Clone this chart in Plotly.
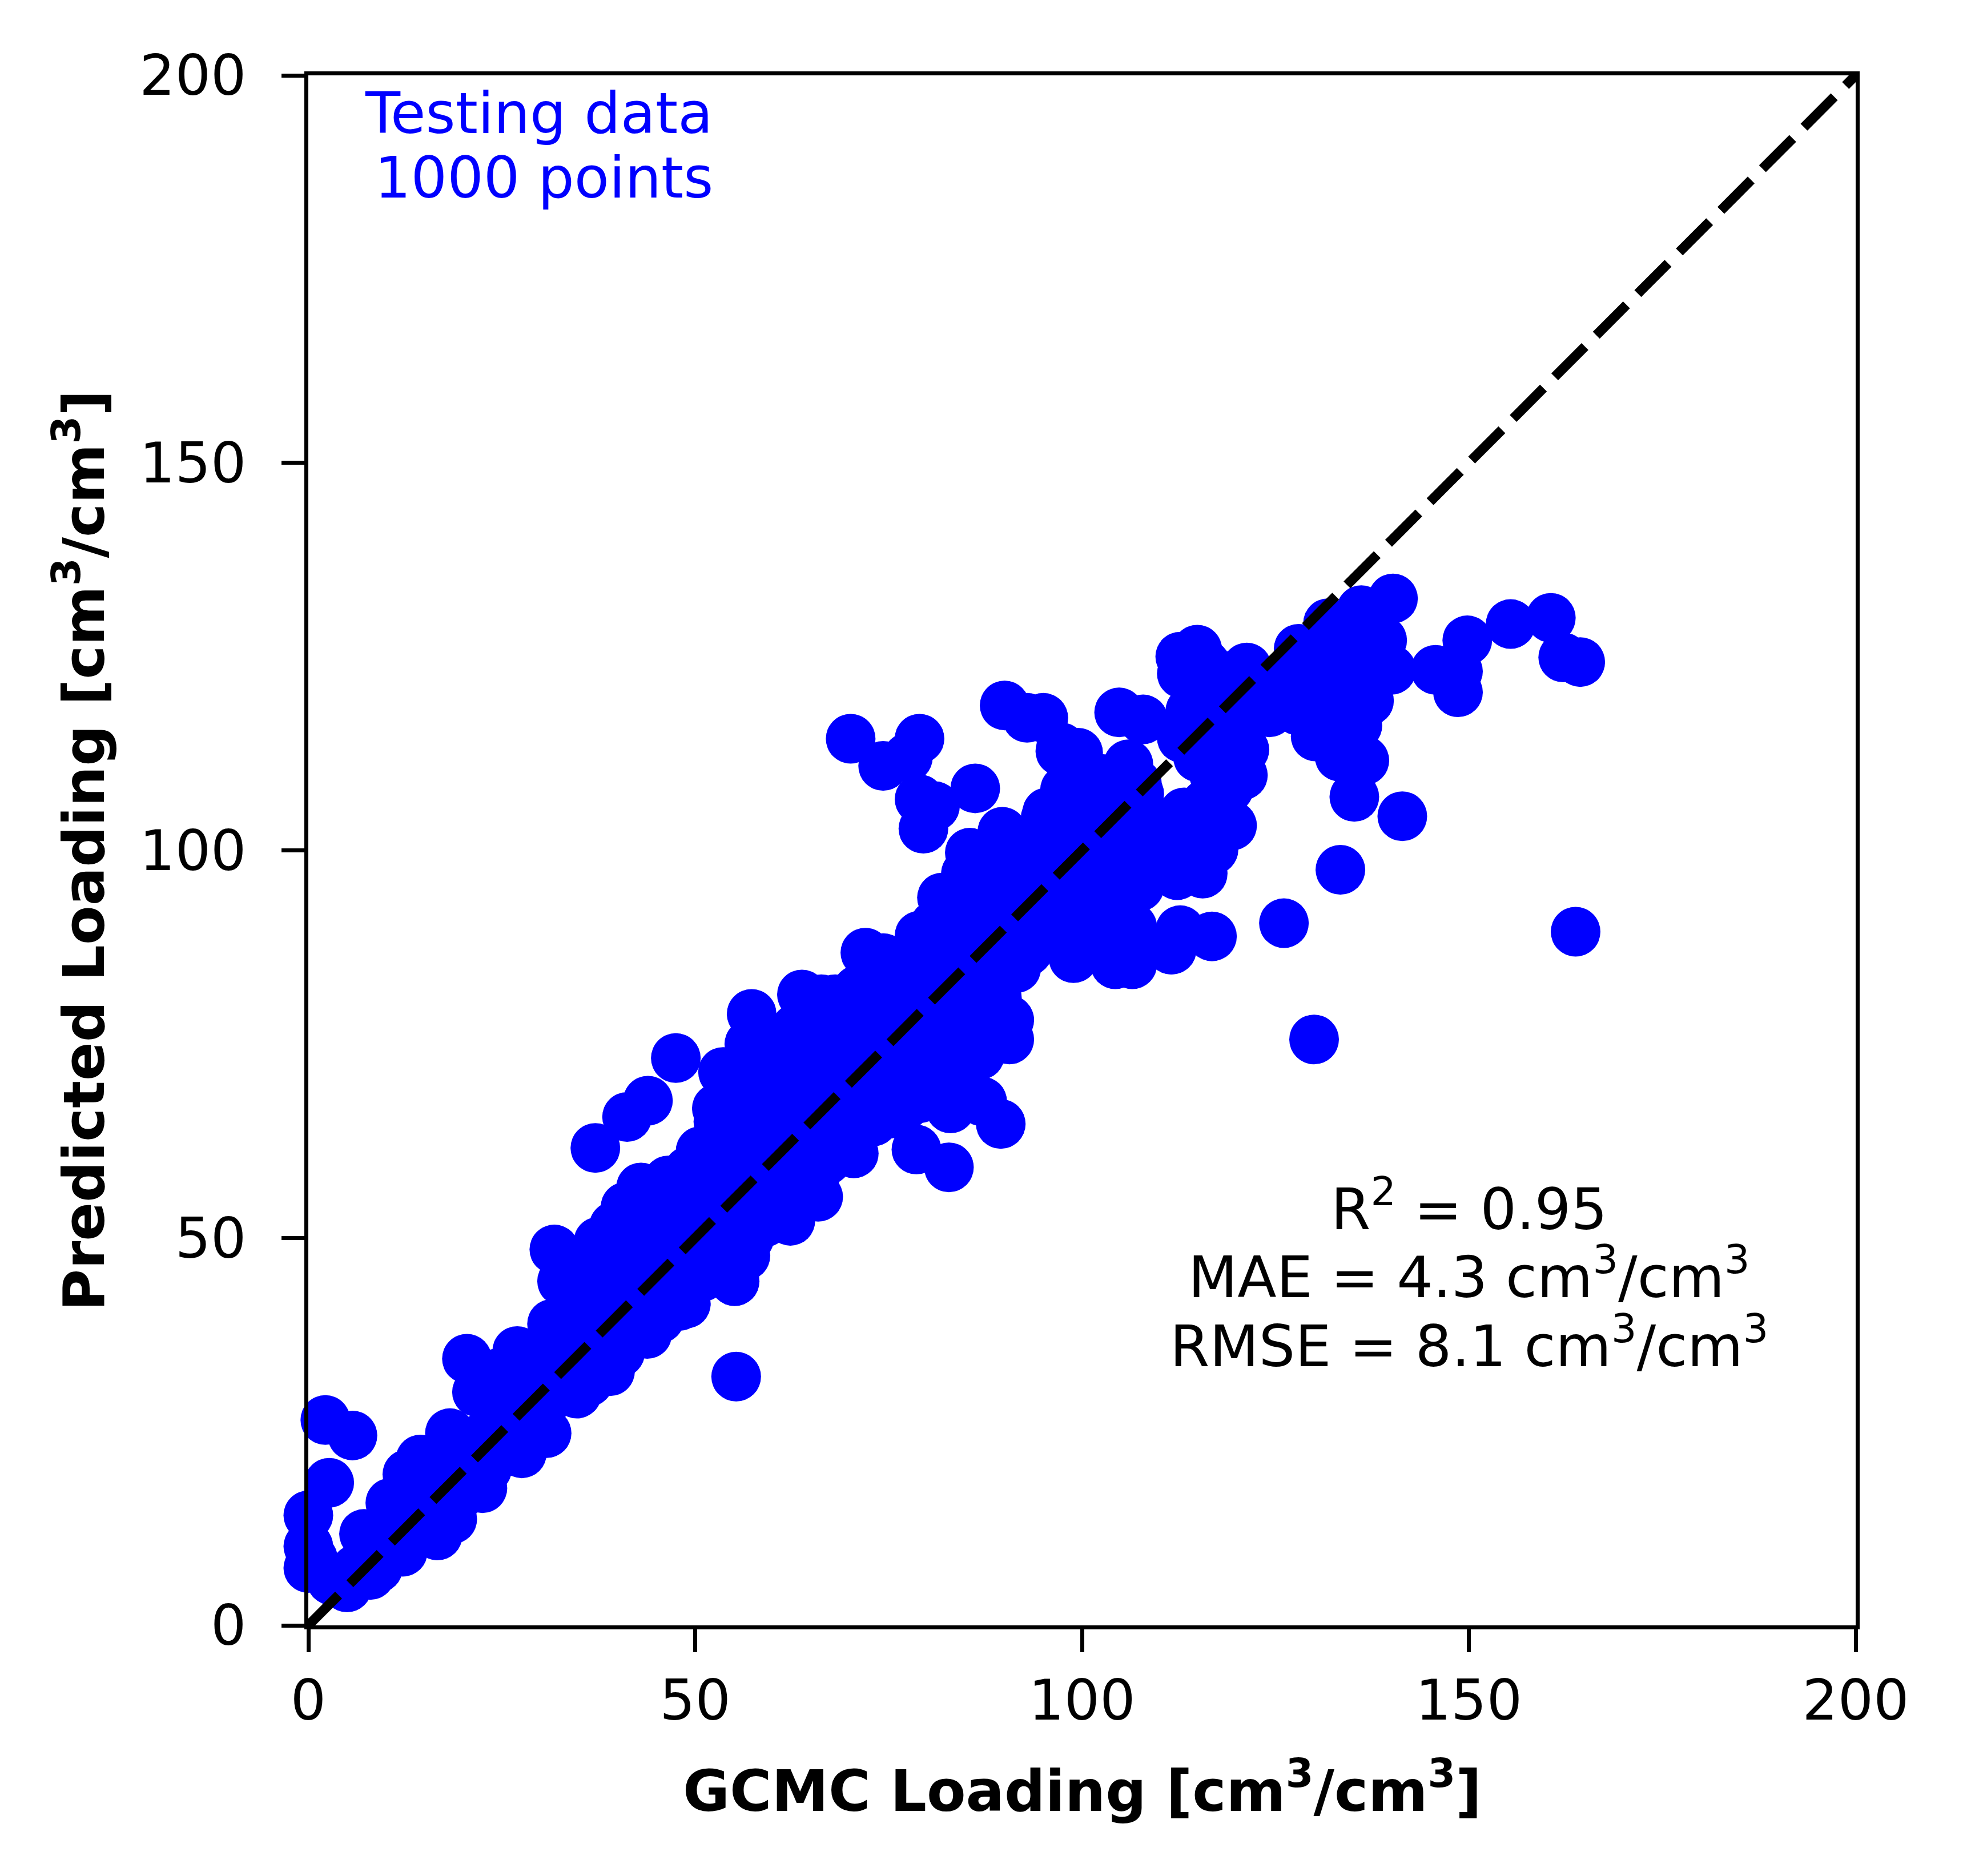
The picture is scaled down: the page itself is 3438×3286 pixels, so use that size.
import plotly.graph_objects as go

# (GCMC loading, predicted loading) pairs, in cm3/cm3
low_band = [
    (0.0, 7.4), (0.0, 10.2), (0.0, 14.2), (0.6, 8.6), (2.2, 26.5), (5.7, 24.5), (2.7, 18.4),
    (3.0, 5.8), (4.7, 5.6), (5.0, 4.9), (6.1, 7.2), (7.2, 11.8), (8.0, 6.5), (9.0, 7.4),
    (9.5, 10.1), (10.2, 12.6), (10.6, 15.8), (12.2, 9.5), (12.5, 12.3), (12.8, 19.5),
    (13.2, 15.2), (14.5, 21.4), (15.0, 12.0), (15.6, 15.1), (16.7, 11.6), (17.0, 18.2),
    (18.3, 24.8), (18.6, 13.7), (18.2, 16.3), (19.9, 17.1), (20.1, 21.0), (20.5, 34.4),
    (21.8, 30.1), (22.5, 17.7), (22.2, 24.1), (23.1, 20.2), (24.4, 32.5), (24.3, 27.0),
    (25.2, 22.3), (26.0, 25.4), (27.0, 35.4), (27.6, 22.2), (27.2, 29.1), (28.3, 26.1),
    (29.1, 31.2), (30.8, 24.8), (30.3, 28.2), (30.1, 34.3), (31.5, 38.9), (31.8, 48.5),
    (32.8, 44.4), (32.2, 31.0), (33.0, 36.2), (34.7, 29.9), (34.1, 33.1), (35.0, 39.2),
    (35.5, 46.5), (36.0, 42.0), (36.2, 31.4), (37.1, 61.6), (37.0, 36.4), (37.5, 49.5),
    (38.1, 45.3), (38.2, 40.1), (39.0, 32.8), (39.2, 48.1), (39.5, 51.5), (40.3, 35.2),
    (40.3, 43.0), (41.1, 38.4), (41.2, 65.6), (41.0, 54.0), (42.0, 46.3), (42.2, 52.1),
    (43.0, 56.5), (43.9, 67.7), (43.8, 37.6), (43.1, 41.2), (44.2, 55.0), (44.1, 49.3),
    (45.0, 44.1), (45.4, 39.6), (46.1, 52.2), (46.5, 57.4), (47.0, 47.1), (47.5, 73.2),
    (47.9, 41.2), (48.1, 55.3), (48.3, 44.3), (49.2, 50.4), (49.1, 58.6), (48.8, 41.5),
]

mid_band = [
    (51, 45), (51, 48), (51, 51), (51, 54), (51, 57), (50.7, 61.2), (52.8, 66.7), (53.6, 71.4),
    (53, 47), (53, 50), (53, 53), (53, 56), (53, 59), (53, 62), (53, 65),
    (55.1, 44.4), (55, 49), (55, 52), (55, 55), (55, 58), (55, 61), (55, 64), (55, 67),
    (56.5, 47.7), (57, 50), (57, 53), (57, 56), (57, 59), (57, 62), (57, 65), (57, 68),
    (56.5, 71.4), (57, 75), (57.3, 78.9),
    (59, 52), (59, 55), (59, 58), (59, 61), (59, 64), (59, 67), (59, 70), (59, 73), (59, 76),
    (61.5, 52.5), (61, 54), (61, 57), (61, 60), (61, 63), (61, 66), (61, 69), (61, 72), (61, 75),
    (62.3, 52.2), (63, 56), (63, 59), (63, 62), (63, 65), (63, 68), (63, 71), (63, 74), (63, 77),
    (63.8, 81.4), (65.4, 57.3), (65.9, 55.3), (65, 61), (65, 64), (65, 67), (65, 70), (65, 73),
    (65, 76), (66.3, 80.8), (67, 60), (67, 63), (67, 66), (67, 69), (67, 72), (67, 75), (67, 78),
    (68.1, 80.8), (69, 62), (69, 65), (69, 68), (69, 71), (69, 74), (69, 77), (69, 80),
    (70.5, 60.9), (71, 64), (71, 67), (71, 70), (71, 73), (71, 76), (71, 79), (71, 82),
    (72.0, 86.8), (73, 65), (73, 68), (73, 71), (73, 74), (73, 77), (73, 80), (73, 83),
    (74.3, 86.1), (75, 66), (75, 69), (75, 72), (75, 75), (75, 78), (75, 81), (75, 84),
    (77, 67), (77, 70), (77, 73), (77, 76), (77, 79), (77, 82), (77, 85),
    (78.6, 61.4), (79, 68), (79, 71), (79, 74), (79, 77), (79, 80), (79, 83), (79, 86), (79, 89),
    (81, 69), (81, 72), (81, 75), (81, 78), (81, 81), (81, 84), (81, 87), (81.0, 90.4), (81.9, 93.9),
    (82.8, 59.1), (83.0, 66.7), (84.6, 71.4), (83, 74), (83, 77), (83, 80), (83, 83), (83, 86),
    (83, 89), (83, 92), (85, 76), (85, 79), (85, 82), (85, 85), (85, 88), (85, 91), (85, 94),
    (85, 97), (85.5, 99.7), (87.1, 67.6), (86.8, 73.6), (87, 77), (87, 80), (87, 83), (87, 86),
    (87, 89), (87, 92), (87.5, 96.8), (89.5, 64.7), (90.6, 75.6), (90.6, 78.1), (89, 81),
    (89, 84), (89, 87), (89, 90), (89, 93), (89, 96), (89, 99), (89.7, 102.4),
    (91.5, 84.8), (91, 88), (91, 91), (91, 94), (91, 97), (90.0, 91.0), (93.1, 94.2),
    (93, 87), (93, 90), (94.4, 88.8), (94.4, 93.2), (95, 91), (95, 94), (95, 97), (95, 100),
    (97, 90), (97, 93), (97, 96), (97, 100), (98.9, 86.1), (98.8, 87.2), (98.9, 95.0),
    (99, 91), (99, 98), (99, 104), (101, 92), (101, 96), (101, 100), (101, 104), (101, 107),
    (103, 94), (103, 98), (103.4, 95.9), (103.4, 99.5), (103, 104),
]

upper_cluster = [
    (95.0, 88.6), (99.1, 94.4), (95.5, 104.9), (99.3, 101.1), (95.3, 104.2), (97.8, 107.8),
    (102.9, 108.2), (102.7, 109.2), (106.0, 109.2), (107.4, 107.3), (106.0, 111.1),
    (107.1, 108.6), (104.6, 98.7), (107.4, 95.3), (107.9, 101.8), (107.8, 101.7),
    (112.0, 97.0), (112.3, 96.8), (115.6, 97.0), (117.0, 100.1), (113.2, 104.9),
    (119.4, 103.2), (110, 98), (110, 103), (109, 100), (112, 100), (114, 102), (117, 103),
    (118, 105), (116, 106), (119, 108), (117, 110), (115, 112), (120.8, 109.7), (118.7, 112.8),
    (112.9, 114.5), (113.0, 114.5), (104.3, 85.3), (106.5, 85.3), (104.3, 85.4), (106.5, 86.1),
    (106.5, 90.1), (105.1, 90.1), (111.5, 87.2), (111.6, 87.2), (112.7, 89.7), (116.8, 88.9),
    (100, 89), (102, 88), (98, 89),
    (104.8, 117.8), (107.9, 116.9), (112.9, 122.8), (112.7, 125.0), (114.9, 125.9),
    (115.1, 121.6), (117.0, 119.7), (119.6, 122.6), (121.3, 123.6), (116, 124), (118, 121),
    (120, 119), (122, 120), (114, 118), (116, 116), (118, 115), (120, 117), (121, 113),
    (124.2, 117.8), (124.7, 121.6), (127.5, 122.1), (129.4, 124.5), (130.4, 126.0),
    (131.8, 129.3), (126, 120), (128, 118), (130, 120), (132, 122), (133, 125), (134, 128),
    (131, 117), (128, 126), (135, 125), (137, 123), (138, 125), (136, 121), (133, 119),
    (132, 115), (130.2, 114.7), (134.7, 118.5), (135.6, 116.1), (137.1, 119.3),
    (136.1, 131.0), (140.2, 132.5), (138.8, 127.1), (140.0, 123.3), (136.7, 128.5),
    (138.3, 126.9), (139.1, 123.7), (133.3, 112.1), (136.5, 111.6), (135.2, 106.9),
    (145.7, 123.3), (148.6, 123.1), (148.6, 120.4), (149.8, 127.1), (155.4, 129.2),
    (160.6, 130.0), (162.2, 124.9), (164.4, 124.3),
]

outliers = [
    (55.3, 32.1), (70.1, 114.4), (74.3, 110.9), (77.5, 112.0), (79.0, 114.4), (79.0, 106.6),
    (81.0, 105.7), (79.5, 102.8), (86.2, 108.0), (90.0, 118.7), (92.9, 117.1), (97.3, 113.3),
    (99.3, 112.4), (97.2, 112.8), (99.5, 112.6), (95.0, 117.1),
    (141.4, 104.4), (133.4, 97.5), (126.1, 90.6), (130.0, 75.6), (163.8, 89.5),
]

diag = [0, 200]
ticks = [0, 50, 100, 150, 200]
stats_lines = ["R<sup>2</sup> = 0.95",
               "MAE = 4.3 cm<sup>3</sup>/cm<sup>3</sup>",
               "RMSE = 8.1 cm<sup>3</sup>/cm<sup>3</sup>"]
stats_y = [54.2, 45.4, 36.5]
label_lines = ["Testing data", "1000 points"]
label_y = [195.1, 186.8]

points = low_band + mid_band + upper_cluster + outliers
gcmc, predicted = zip(*points)

FONT = "DejaVu Sans"

fig = go.Figure()
fig.add_trace(
    go.Scatter(
        x=gcmc,
        y=predicted,
        mode="markers",
        marker=dict(size=87, color="#0000ff", line=dict(width=0)),
        cliponaxis=False,
        hoverinfo="skip",
    )
)
fig.add_trace(
    go.Scatter(
        x=diag,
        y=diag,
        mode="lines",
        line=dict(color="black", width=17, dash="75px,28px"),
        hoverinfo="skip",
    )
)

axis_style = dict(
    range=[0, 200],
    tickvals=ticks,
    showgrid=False,
    zeroline=False,
    showline=True,
    mirror=True,
    linecolor="black",
    linewidth=7,
    ticks="outside",
    ticklen=40,
    tickwidth=7,
    tickcolor="black",
    tickfont=dict(family=FONT, size=98, color="black"),
    layer="above traces",
)
fig.update_xaxes(**axis_style, ticklabelstandoff=0)
fig.update_yaxes(**axis_style, ticklabelstandoff=42)

for text, y in zip(stats_lines, stats_y):
    fig.add_annotation(x=150.0, y=y, text=text, showarrow=False, xanchor="center",
                       yanchor="middle", font=dict(family=FONT, size=100, color="black"))
for text, y in zip(label_lines, label_y):
    fig.add_annotation(x=52.5, y=y, text=text, showarrow=False, xanchor="right",
                       yanchor="middle", font=dict(family=FONT, size=100, color="#0000ff"))

fig.add_annotation(
    xref="paper", yref="paper", x=0.5, y=-0.1045,
    text="<b>GCMC Loading [cm<sup>3</sup>/cm<sup>3</sup>]</b>",
    showarrow=False, xanchor="center", yanchor="middle",
    font=dict(family=FONT, size=100, color="black"),
)
fig.add_annotation(
    xref="paper", yref="paper", x=-0.1473, y=0.5, textangle=-90,
    text="<b>Predicted Loading [cm<sup>3</sup>/cm<sup>3</sup>]</b>",
    showarrow=False, xanchor="center", yanchor="middle",
    font=dict(family=FONT, size=100, color="black"),
)

fig.update_layout(
    width=3438,
    height=3286,
    autosize=False,
    showlegend=False,
    plot_bgcolor="white",
    paper_bgcolor="white",
    margin=dict(l=532, r=196, t=124, b=447, pad=0),
)

fig.write_html("out.html")
